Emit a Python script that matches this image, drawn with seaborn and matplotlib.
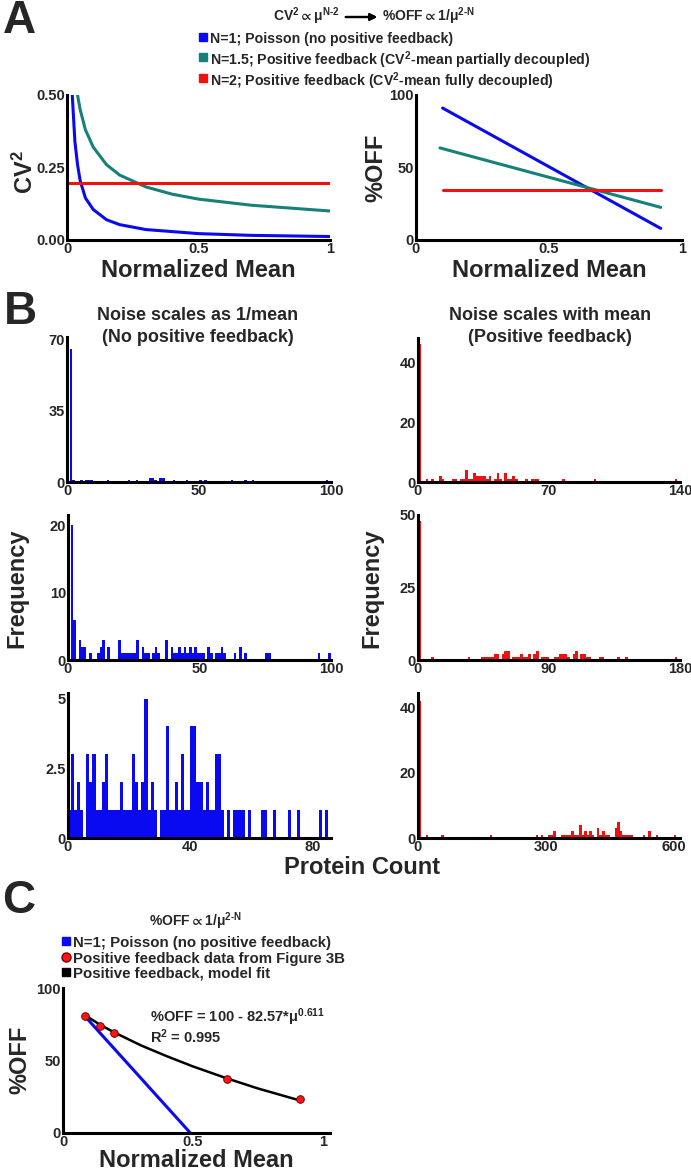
import numpy as np
import pandas as pd
import matplotlib
matplotlib.use("Agg")
import matplotlib.pyplot as plt
from matplotlib.lines import Line2D
import seaborn as sns

# ---------------- data ----------------
# Panel A, left: CV^2 vs normalized mean
a_mu_n1 = [0.02, 0.03, 0.04, 0.05, 0.07, 0.1, 0.15, 0.2, 0.3, 0.5, 0.7, 1.0]
a_cv2_n1 = [0.50, 0.34, 0.26, 0.205, 0.145, 0.105, 0.07, 0.053, 0.036, 0.022, 0.016, 0.012]
a_mu_n15 = [0.04, 0.05, 0.07, 0.1, 0.15, 0.2, 0.3, 0.4, 0.5, 0.7, 1.0]
a_cv2_n15 = [0.50, 0.45, 0.38, 0.32, 0.26, 0.224, 0.183, 0.158, 0.141, 0.12, 0.10]
a_mu_n2 = [0.005, 1.0]
a_cv2_n2 = [0.196, 0.196]

# Panel A, right: %OFF vs normalized mean
off_mu = [0.1, 0.92]
off_mu_n15 = [0.09, 0.92]
off_n1 = [91, 8]
off_n15 = [63.5, 22.5]
off_n2 = [34.5, 34.5]

# Panel B: histograms (bin index, count)
tl_bin = [1, 2, 5, 7, 8, 9, 15, 23, 26, 31, 32, 33, 35, 36, 40, 45, 50, 52, 62, 67, 70, 98]
tl_cnt = [65, 1, 1, 1, 1, 1, 1, 1, 1, 2, 2, 1, 2, 2, 1, 1, 1, 1, 1, 1, 1, 1]

ml_bin = [1, 2, 4, 5, 6, 8, 11, 12, 13, 15, 19, 20, 21, 22, 23, 24, 25, 26, 28, 29, 30,
          32, 33, 34, 37, 39, 40, 41, 42, 43, 44, 45, 46, 47, 48, 49, 50, 51, 53, 54,
          56, 57, 58, 59, 63, 65, 67, 75, 76, 95, 99]
ml_cnt = [20, 6, 3, 2, 2, 1, 1, 2, 3, 2, 3, 1, 1, 1, 1, 1, 1, 3, 2, 1, 1,
          1, 2, 1, 3, 2, 1, 1, 2, 1, 2, 1, 2, 1, 2, 1, 1, 1, 2, 1,
          1, 1, 2, 1, 1, 2, 1, 1, 1, 1, 1]

bl_bin = [0, 1, 2, 3, 4, 6, 7, 8, 9, 10,
          11, 12, 13, 14, 15, 16, 17, 18, 19, 20, 21, 22, 23, 24, 25, 26, 27, 28,
          30, 31, 32, 33, 34, 35, 36, 37, 38, 39, 40, 41, 42, 43, 44, 45, 46, 47, 48, 49, 50,
          52, 54, 55, 56, 57, 59, 63, 64, 67, 72, 75, 82, 84]
bl_cnt = [1, 3, 1, 2, 1, 3, 2, 3, 1, 1,
          2, 3, 1, 1, 1, 1, 2, 1, 1, 1, 3, 2, 1, 2, 5, 1, 2, 1,
          1, 1, 4, 1, 1, 2, 1, 3, 1, 1, 4, 4, 2, 2, 1, 2, 1, 1, 3, 3, 1,
          1, 1, 1, 1, 1, 1, 1, 1, 1, 1, 1, 1, 1]

tr_bin = [0, 3, 5, 8, 9, 13, 14, 16, 17, 18, 19, 20, 21, 22, 23, 24, 25, 26, 27, 29,
          30, 31, 33, 34, 35, 36, 37, 41, 43, 44, 45, 55, 67, 98]
tr_cnt = [46, 1, 1, 2, 1, 1, 1, 1, 1, 4, 1, 1, 3, 2, 2, 2, 2, 1, 2, 1,
          3, 1, 3, 1, 1, 2, 1, 1, 1, 1, 1, 1, 1, 1]

mr_bin = [0, 5, 19, 24, 25, 26, 27, 28, 29, 30, 32, 33, 34, 36, 37, 38, 39, 40, 41, 42,
          44, 45, 47, 48, 49, 52, 53, 54, 55, 56, 57, 59, 60, 62, 63, 64, 65, 69, 70,
          76, 79, 98]
mr_cnt = [48, 1, 1, 1, 1, 1, 1, 1, 2, 2, 2, 3, 3, 1, 1, 1, 2, 1, 1, 2,
          2, 3, 1, 1, 1, 1, 1, 2, 2, 2, 1, 2, 3, 2, 2, 1, 1, 1, 1,
          1, 1, 1]

br_bin = [0, 3, 9, 28, 46, 48, 51, 52, 53, 56, 57, 58, 59, 60, 61, 62, 63, 64, 65, 66,
          67, 68, 70, 71, 72, 73, 74, 77, 78, 79, 80, 81, 82, 83, 88, 90, 93, 100]
br_cnt = [42, 1, 1, 1, 1, 1, 1, 1, 2, 1, 1, 1, 1, 2, 1, 1, 4, 1, 2, 1,
          2, 1, 3, 1, 2, 1, 1, 3, 5, 2, 1, 1, 1, 1, 1, 2, 1, 1]

# Panel C
c_mu_data = [0.084, 0.144, 0.197, 0.63, 0.91]
c_off_data = [80.5, 73.5, 69.0, 37.2, 23.2]
c_mu_poisson = [0.087, 0.49]
c_off_poisson = [80.0, 0.0]
c_mu_fit = [0.084, 0.1, 0.144, 0.197, 0.3, 0.4, 0.5, 0.63, 0.75, 0.91]
c_off_fit = [81.5, 79.5, 74.5, 69.4, 60.4, 52.9, 45.9, 37.7, 30.7, 22.5]

BLUE = "#0a0af0"
TEAL = "#16807a"
RED = "#f01010"
DOT_RED = "#ff1414"
HY = "\u2010"  # plain hyphen, no operator spacing in mathtext

legend_a = ["N=1; Poisson (no positive feedback)",
            "N=1.5; Positive feedback (CV$^{2}$-mean partially decoupled)",
            "N=2; Positive feedback (CV$^{2}$-mean fully decoupled)"]
legend_c = ["N=1; Poisson (no positive feedback)",
            "Positive feedback data from Figure 3B",
            "Positive feedback, model fit"]

# ---------------- style ----------------
sns.set_style("ticks")
plt.rcParams["font.family"] = ["Liberation Sans", "DejaVu Sans"]
plt.rcParams["font.weight"] = "bold"
plt.rcParams["axes.labelweight"] = "bold"
plt.rcParams["mathtext.fontset"] = "custom"
plt.rcParams["mathtext.rm"] = "Liberation Sans:bold"
plt.rcParams["mathtext.it"] = "Liberation Sans:bold"
plt.rcParams["mathtext.bf"] = "Liberation Sans:bold"
plt.rcParams["mathtext.default"] = "bf"
plt.rcParams["mathtext.fallback"] = "stixsans"

W, H = 691, 1170
fig = plt.figure(figsize=(W / 100, H / 100), dpi=100)


def fx(x):
    return x / W


def fy(y):
    return 1 - y / H


def px_axes(x0, y0, x1, y1):
    return fig.add_axes([x0 / W, 1 - y1 / H, (x1 - x0) / W, (y1 - y0) / H])


def style_axes(ax, xlim, ylim, xticks, yticks, xlabels=None, ylabels=None):
    ax.set_xlim(*xlim)
    ax.set_ylim(*ylim)
    ax.set_xticks(xticks)
    ax.set_yticks(yticks)
    if xlabels is not None:
        ax.set_xticklabels(xlabels)
    if ylabels is not None:
        ax.set_yticklabels(ylabels)
    for s in ["top", "right"]:
        ax.spines[s].set_visible(False)
    for s in ["left", "bottom"]:
        ax.spines[s].set_linewidth(2.2)
        ax.spines[s].set_color("black")
    ax.tick_params(length=0, labelsize=10.5, pad=1.5)
    ax.set_xlabel("")
    ax.set_ylabel("")


def draw_hist(ax, bins, counts, width, color, xmax):
    nb = int(np.ceil(xmax / width))
    df = pd.DataFrame({"x": np.asarray(bins) * width + width / 2, "n": counts})
    sns.histplot(data=df, x="x", weights="n", binwidth=width, binrange=(0, nb * width),
                 color=color, alpha=1, linewidth=0, ax=ax)


def side_label(x, y, s):
    fig.text(fx(x), fy(y), s, fontsize=17, rotation=90, ha="center", va="center")


def legend_rows(x, ys, labels, markers, size):
    # one row per entry: a small marker then bold text
    for y, lab, (m, fc, ec, ms) in zip(ys, labels, markers):
        fig.add_artist(Line2D([fx(x)], [fy(y)], marker=m, ls="none", markersize=ms,
                              markerfacecolor=fc, markeredgecolor=ec,
                              transform=fig.transFigure))
        fig.text(fx(x + 7), fy(y), lab, fontsize=size, ha="left", va="center_baseline")


# ---------------- Panel A ----------------
ax = px_axes(67, 95, 330, 240)
sns.lineplot(x=a_mu_n1, y=a_cv2_n1, color=BLUE, linewidth=2.2, ax=ax)
sns.lineplot(x=a_mu_n15, y=a_cv2_n15, color=TEAL, linewidth=2.2, ax=ax)
sns.lineplot(x=a_mu_n2, y=a_cv2_n2, color=RED, linewidth=2.2, ax=ax)
style_axes(ax, (0, 1), (0, 0.5), [0, 0.5, 1], [0, 0.25, 0.5],
           ["0", "0.5", "1"], ["0.00", "0.25", "0.50"])
ax.set_xlabel("Normalized Mean", fontsize=17, labelpad=2)
side_label(25, 172, "CV$^{2}$")

ax = px_axes(416, 95, 682, 240)
sns.lineplot(x=off_mu, y=off_n1, color=BLUE, linewidth=2.2, ax=ax)
sns.lineplot(x=off_mu_n15, y=off_n15, color=TEAL, linewidth=2.2, ax=ax)
sns.lineplot(x=off_mu, y=off_n2, color=RED, linewidth=2.2, ax=ax)
style_axes(ax, (0, 1), (0, 100), [0, 0.5, 1], [0, 50, 100], ["0", "0.5", "1"])
ax.set_xlabel("Normalized Mean", fontsize=17, labelpad=2)
side_label(376, 168, "%OFF")

fig.text(fx(19), fy(21), "A", fontsize=33, fontweight="bold", ha="center", va="center")
fig.text(fx(340), fy(16), "CV$^{2}$$\\propto$μ$^{N" + HY + "2}$", fontsize=10,
         ha="right", va="center")
fig.text(fx(382), fy(16), "%OFF$\\propto$1/μ$^{2" + HY + "N}$", fontsize=10,
         ha="left", va="center")
fig.add_artist(plt.annotate("", xy=(fx(380), fy(17)), xytext=(fx(343), fy(17)),
                            xycoords="figure fraction", textcoords="figure fraction",
                            arrowprops=dict(arrowstyle="-|>", lw=1.6, color="black",
                                            mutation_scale=10)))
legend_rows(203, [37, 57, 78], legend_a,
            [("s", BLUE, BLUE, 6), ("s", TEAL, TEAL, 6), ("s", RED, RED, 6)], 10.2)

# ---------------- Panel B ----------------
fig.text(fx(20), fy(312), "B", fontsize=33, fontweight="bold", ha="center", va="center")
fig.text(fx(198), fy(316), "Noise scales as 1/mean", fontsize=13, ha="center", va="center")
fig.text(fx(198), fy(337), "(No positive feedback)", fontsize=13, ha="center", va="center")
fig.text(fx(550), fy(316), "Noise scales with mean", fontsize=13, ha="center", va="center")
fig.text(fx(550), fy(337), "(Positive feedback)", fontsize=13, ha="center", va="center")

ax = px_axes(67, 337, 331, 482)
draw_hist(ax, tl_bin, tl_cnt, 1, BLUE, 100)
style_axes(ax, (0, 100), (0, 71), [0, 50, 100], [0, 35, 70])

ax = px_axes(418, 338, 680, 482)
draw_hist(ax, tr_bin, tr_cnt, 1.4, RED, 140)
style_axes(ax, (0, 140), (0, 48), [0, 70, 140], [0, 20, 40])

ax = px_axes(68, 515, 331, 660)
draw_hist(ax, ml_bin, ml_cnt, 1, BLUE, 100)
style_axes(ax, (0, 100), (0, 21.5), [0, 50, 100], [0, 10, 20])
side_label(17, 588, "Frequency")

ax = px_axes(418, 515, 680, 660)
draw_hist(ax, mr_bin, mr_cnt, 1.8, RED, 180)
style_axes(ax, (0, 180), (0, 50), [0, 90, 180], [0, 25, 50])
side_label(372, 588, "Frequency")

ax = px_axes(68, 693, 331, 838)
draw_hist(ax, bl_bin, bl_cnt, 1, BLUE, 86)
style_axes(ax, (0, 86), (0, 5.2), [0, 40, 80], [0, 2.5, 5], None, ["0", "2.5", "5"])

ax = px_axes(418, 693, 680, 838)
draw_hist(ax, br_bin, br_cnt, 6, RED, 612)
style_axes(ax, (0, 615), (0, 44.5), [0, 300, 600], [0, 20, 40])

fig.text(fx(362), fy(868), "Protein Count", fontsize=17, ha="center", va="center")

# ---------------- Panel C ----------------
fig.text(fx(19), fy(901), "C", fontsize=33, fontweight="bold", ha="center", va="center")
fig.text(fx(195), fy(921), "%OFF$\\propto$1/μ$^{2" + HY + "N}$", fontsize=10,
         ha="center", va="center")
legend_rows(66, [941, 957, 972], legend_c,
            [("s", BLUE, BLUE, 6), ("o", DOT_RED, "#700000", 6.5), ("s", "black", "black", 6)],
            10.8)

ax = px_axes(63, 988, 330, 1133)
sns.lineplot(x=c_mu_poisson, y=c_off_poisson, color=BLUE, linewidth=2.2, ax=ax)
sns.lineplot(x=c_mu_fit, y=c_off_fit, color="black", linewidth=1.8, ax=ax)
sns.scatterplot(x=c_mu_data, y=c_off_data, color=DOT_RED, edgecolor="#700000",
                linewidth=0.7, s=30, zorder=5, ax=ax)
style_axes(ax, (0, 1.027), (0, 100), [0, 0.5, 1], [0, 50, 100], ["0", "0.5", "1"])
ax.set_xlabel("Normalized Mean", fontsize=17, labelpad=0)
side_label(20, 1060, "%OFF")
fig.text(fx(150), fy(1017), "%OFF = 100 - 82.57*μ$^{0.611}$", fontsize=10.5, ha="left", va="center")
fig.text(fx(150), fy(1037), "R$^{2}$ = 0.995", fontsize=10.5, ha="left", va="center")

fig.savefig("out.png", dpi=100)
